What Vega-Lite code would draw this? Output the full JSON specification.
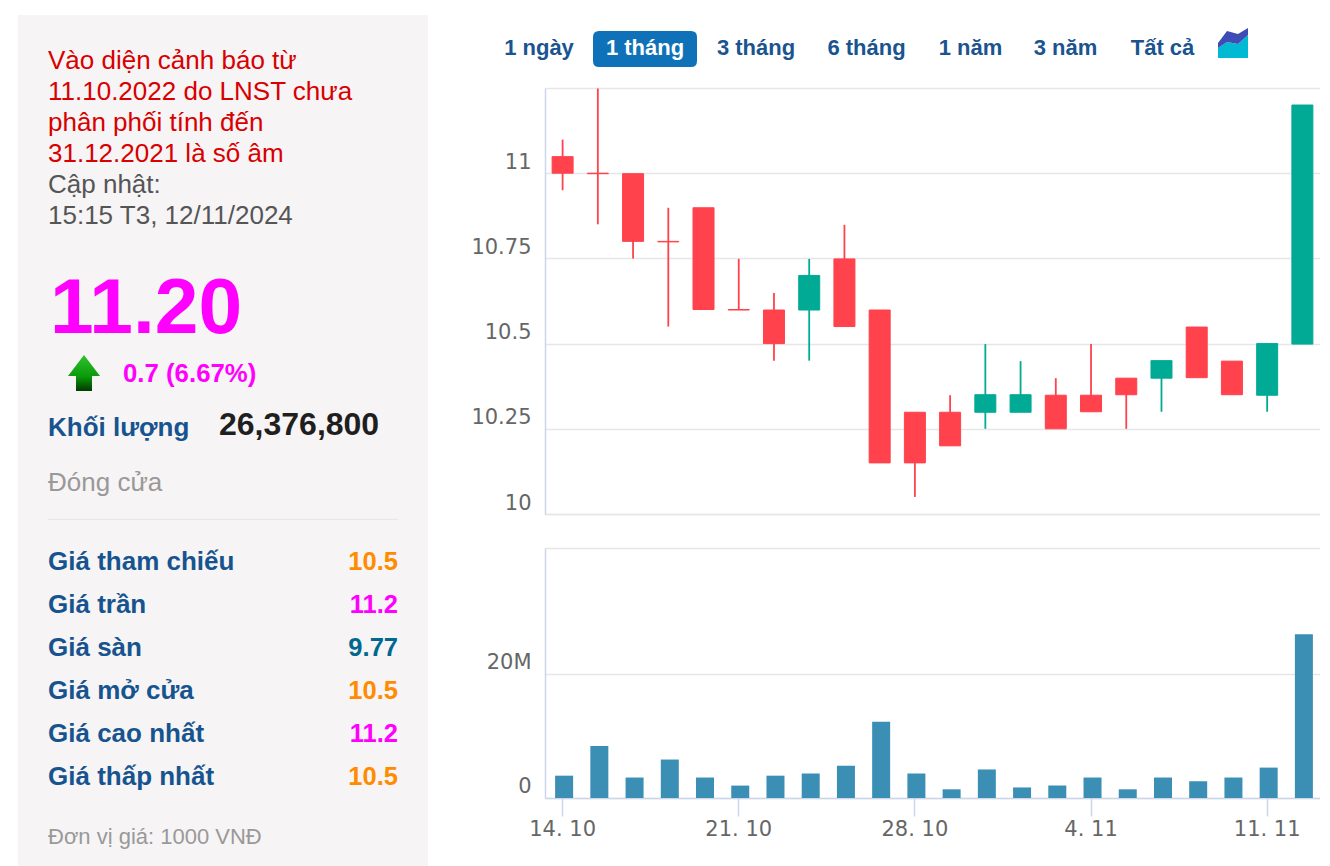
{
"$schema":"https://vega.github.io/schema/vega-lite/v6.json",
"background":"#ffffff",
"padding":{"left":18,"top":15,"right":0,"bottom":0},
"config":{"view":{"stroke":null},"text":{"font":"Liberation Sans"},"concat":{"spacing":0}},
"datasets":{
"panel":[
{"section":"notice","text":"Vào diện cảnh báo từ","tone":"warning"},
{"section":"notice","text":"11.10.2022 do LNST chưa","tone":"warning"},
{"section":"notice","text":"phân phối tính đến","tone":"warning"},
{"section":"notice","text":"31.12.2021 là số âm","tone":"warning"},
{"section":"notice","text":"Cập nhật:","tone":"muted"},
{"section":"notice","text":"15:15 T3, 12/11/2024","tone":"muted"},
{"section":"price","text":"11.20"},
{"section":"arrow","text":"up"},
{"section":"change","text":"0.7 (6.67%)"},
{"section":"volumeLabel","text":"Khối lượng"},
{"section":"volumeValue","text":"26,376,800"},
{"section":"close","text":"Đóng cửa"},
{"section":"divider","text":"from"},
{"section":"divider","text":"to"},
{"section":"table","text":"Giá tham chiếu","value":"10.5","tone":"ref"},
{"section":"table","text":"Giá trần","value":"11.2","tone":"ceil"},
{"section":"table","text":"Giá sàn","value":"9.77","tone":"floor"},
{"section":"table","text":"Giá mở cửa","value":"10.5","tone":"ref"},
{"section":"table","text":"Giá cao nhất","value":"11.2","tone":"ceil"},
{"section":"table","text":"Giá thấp nhất","value":"10.5","tone":"ref"},
{"section":"footer","text":"Đơn vị giá: 1000 VNĐ"}
],
"tabs":[
{"tab":"1 ngày","row":"tabs","tone":"idle"},
{"tab":"1 tháng","row":"tabs","tone":"active"},
{"tab":"3 tháng","row":"tabs","tone":"idle"},
{"tab":"6 tháng","row":"tabs","tone":"idle"},
{"tab":"1 năm","row":"tabs","tone":"idle"},
{"tab":"3 năm","row":"tabs","tone":"idle"},
{"tab":"Tất cả","row":"tabs","tone":"idle"}
],
"icon":[
{"k":0,"top":15,"low":10,"base":0},
{"k":9,"top":27,"low":16,"base":0},
{"k":20,"top":24,"low":14,"base":0},
{"k":30,"top":30,"low":23,"base":0}
],
"days":[
{"day":"14. 10","open":11.05,"close":11.0,"high":11.10,"low":10.95,"dir":"down","volume":3600000},
{"day":"15. 10","open":11.0,"close":11.0,"high":11.25,"low":10.85,"dir":"down","volume":8400000},
{"day":"16. 10","open":11.0,"close":10.8,"high":11.0,"low":10.75,"dir":"down","volume":3300000},
{"day":"17. 10","open":10.8,"close":10.8,"high":10.9,"low":10.55,"dir":"down","volume":6200000},
{"day":"18. 10","open":10.9,"close":10.6,"high":10.9,"low":10.6,"dir":"down","volume":3300000},
{"day":"21. 10","open":10.6,"close":10.6,"high":10.75,"low":10.6,"dir":"down","volume":2000000},
{"day":"22. 10","open":10.6,"close":10.5,"high":10.65,"low":10.45,"dir":"down","volume":3600000},
{"day":"23. 10","open":10.6,"close":10.7,"high":10.75,"low":10.45,"dir":"up","volume":3950000},
{"day":"24. 10","open":10.75,"close":10.55,"high":10.85,"low":10.55,"dir":"down","volume":5200000},
{"day":"25. 10","open":10.6,"close":10.15,"high":10.6,"low":10.15,"dir":"down","volume":12300000},
{"day":"28. 10","open":10.3,"close":10.15,"high":10.3,"low":10.05,"dir":"down","volume":3950000},
{"day":"29. 10","open":10.3,"close":10.2,"high":10.35,"low":10.2,"dir":"down","volume":1400000},
{"day":"30. 10","open":10.3,"close":10.35,"high":10.5,"low":10.25,"dir":"up","volume":4600000},
{"day":"31. 10","open":10.3,"close":10.35,"high":10.45,"low":10.3,"dir":"up","volume":1700000},
{"day":"1. 11","open":10.35,"close":10.25,"high":10.4,"low":10.25,"dir":"down","volume":2000000},
{"day":"4. 11","open":10.35,"close":10.3,"high":10.5,"low":10.3,"dir":"down","volume":3300000},
{"day":"5. 11","open":10.4,"close":10.35,"high":10.4,"low":10.25,"dir":"down","volume":1400000},
{"day":"6. 11","open":10.4,"close":10.45,"high":10.45,"low":10.3,"dir":"up","volume":3300000},
{"day":"7. 11","open":10.55,"close":10.4,"high":10.55,"low":10.4,"dir":"down","volume":2700000},
{"day":"8. 11","open":10.45,"close":10.35,"high":10.45,"low":10.35,"dir":"down","volume":3300000},
{"day":"11. 11","open":10.35,"close":10.5,"high":10.5,"low":10.3,"dir":"up","volume":4900000},
{"day":"12. 11","open":10.5,"close":11.2,"high":11.2,"low":10.5,"dir":"up","volume":26376800}
]
},
"hconcat":[
{
"width":410,"height":851,
"view":{"fill":"#f6f4f5","stroke":null},
"data":{"name":"panel"},
"resolve":{"scale":{"x":"independent","y":"independent"}},
"layer":[
{"transform":[{"filter":"datum.section=='notice'"}],
 "mark":{"type":"text","align":"left","baseline":"alphabetic","fontSize":26,"font":"Liberation Sans"},
 "encoding":{
  "x":{"field":"section","type":"nominal","axis":null,"scale":{"range":[30,30],"padding":0}},
  "y":{"field":"text","type":"nominal","sort":null,"axis":null,"scale":{"range":[53.5,209],"padding":0}},
  "text":{"field":"text"},
  "color":{"field":"tone","type":"nominal","legend":null,"scale":{"domain":["warning","muted","ref","ceil","floor","idle","active","up","down"],"range":["#d80000","#555555","#ff8c00","#ff00ff","#00688f","#1a5490","#ffffff","#00aa95","#ff424c"]}}}},
{"transform":[{"filter":"datum.section=='price'"}],
 "mark":{"type":"text","align":"left","baseline":"alphabetic","fontSize":78.5,"fontWeight":"bold","font":"Liberation Sans","color":"#ff00ff"},
 "encoding":{
  "x":{"field":"section","type":"nominal","axis":null,"scale":{"range":[32,32],"padding":0}},
  "y":{"field":"section","type":"nominal","axis":null,"scale":{"range":[318.3,318.3],"padding":0}},
  "text":{"field":"text"}}},
{"transform":[{"filter":"datum.section=='arrow'"}],
 "mark":{"type":"point","filled":true,"opacity":1,"strokeWidth":0,"size":1024,
  "shape":"M0,-1.125L1,0.19L0.5,0.19L0.5,1.125L-0.5,1.125L-0.5,0.19L-1,0.19Z",
  "color":{"gradient":"linear","x1":0,"y1":0,"x2":0,"y2":1,"stops":[{"offset":0,"color":"#2fc22f"},{"offset":0.6,"color":"#0a9a0a"},{"offset":1,"color":"#013a01"}]}},
 "encoding":{
  "x":{"field":"section","type":"nominal","axis":null,"scale":{"range":[66,66],"padding":0}},
  "y":{"field":"section","type":"nominal","axis":null,"scale":{"range":[358,358],"padding":0}}}},
{"transform":[{"filter":"datum.section=='change'"}],
 "mark":{"type":"text","align":"left","baseline":"alphabetic","fontSize":25.8,"fontWeight":"bold","font":"Liberation Sans","color":"#ff00ff"},
 "encoding":{
  "x":{"field":"section","type":"nominal","axis":null,"scale":{"range":[105,105],"padding":0}},
  "y":{"field":"section","type":"nominal","axis":null,"scale":{"range":[367,367],"padding":0}},
  "text":{"field":"text"}}},
{"transform":[{"filter":"datum.section=='volumeLabel'"}],
 "mark":{"type":"text","align":"left","baseline":"alphabetic","fontSize":26,"fontWeight":"bold","font":"Liberation Sans","color":"#17548f"},
 "encoding":{
  "x":{"field":"section","type":"nominal","axis":null,"scale":{"range":[30,30],"padding":0}},
  "y":{"field":"section","type":"nominal","axis":null,"scale":{"range":[421,421],"padding":0}},
  "text":{"field":"text"}}},
{"transform":[{"filter":"datum.section=='volumeValue'"}],
 "mark":{"type":"text","align":"left","baseline":"alphabetic","fontSize":32,"fontWeight":"bold","font":"Liberation Sans","color":"#1f1f1f"},
 "encoding":{
  "x":{"field":"section","type":"nominal","axis":null,"scale":{"range":[201,201],"padding":0}},
  "y":{"field":"section","type":"nominal","axis":null,"scale":{"range":[420,420],"padding":0}},
  "text":{"field":"text"}}},
{"transform":[{"filter":"datum.section=='close'"}],
 "mark":{"type":"text","align":"left","baseline":"alphabetic","fontSize":26,"font":"Liberation Sans","color":"#999999"},
 "encoding":{
  "x":{"field":"section","type":"nominal","axis":null,"scale":{"range":[30,30],"padding":0}},
  "y":{"field":"section","type":"nominal","axis":null,"scale":{"range":[475.7,475.7],"padding":0}},
  "text":{"field":"text"}}},
{"transform":[{"filter":"datum.section=='divider'"}],
 "mark":{"type":"line","color":"#e9e8e9","strokeWidth":1.3},
 "encoding":{
  "x":{"field":"text","type":"nominal","sort":null,"axis":null,"scale":{"range":[30,380],"padding":0}},
  "y":{"field":"section","type":"nominal","axis":null,"scale":{"range":[504.3,504.3],"padding":0}}}},
{"transform":[{"filter":"datum.section=='table'"}],
 "mark":{"type":"text","align":"left","baseline":"alphabetic","fontSize":26,"fontWeight":"bold","font":"Liberation Sans","color":"#17548f"},
 "encoding":{
  "x":{"field":"section","type":"nominal","axis":null,"scale":{"range":[30,30],"padding":0}},
  "y":{"field":"text","type":"nominal","sort":null,"axis":null,"scale":{"range":[555.2,770.2],"padding":0}},
  "text":{"field":"text"}}},
{"transform":[{"filter":"datum.section=='table'"}],
 "mark":{"type":"text","align":"right","baseline":"alphabetic","fontSize":25.5,"fontWeight":"bold","font":"Liberation Sans"},
 "encoding":{
  "x":{"field":"section","type":"nominal","axis":null,"scale":{"range":[380,380],"padding":0}},
  "y":{"field":"text","type":"nominal","sort":null,"axis":null,"scale":{"range":[555.2,770.2],"padding":0}},
  "text":{"field":"value"},
  "color":{"field":"tone","type":"nominal","legend":null,"scale":{"domain":["warning","muted","ref","ceil","floor","idle","active","up","down"],"range":["#d80000","#555555","#ff8c00","#ff00ff","#00688f","#1a5490","#ffffff","#00aa95","#ff424c"]}}}},
{"transform":[{"filter":"datum.section=='footer'"}],
 "mark":{"type":"text","align":"left","baseline":"alphabetic","fontSize":22,"font":"Liberation Sans","color":"#999999"},
 "encoding":{
  "x":{"field":"section","type":"nominal","axis":null,"scale":{"range":[30,30],"padding":0}},
  "y":{"field":"section","type":"nominal","axis":null,"scale":{"range":[829,829],"padding":0}},
  "text":{"field":"text"}}}
]
},
{
"spacing":0,
"vconcat":[
{
"width":775,"height":72,
"resolve":{"scale":{"x":"independent","y":"independent"}},
"layer":[
{"data":{"name":"tabs"},"transform":[{"filter":"datum.tone=='active'"}],
 "mark":{"type":"point","filled":true,"opacity":1,"strokeWidth":0,"size":4,"color":"#0f72b8",
  "shape":"M-46,-18H46Q52,-18 52,-12V12Q52,18 46,18H-46Q-52,18 -52,12V-12Q-52,-18 -46,-18Z"},
 "encoding":{
  "x":{"field":"tab","type":"nominal","axis":null,"scale":{"range":[100,100],"padding":0}},
  "y":{"field":"row","type":"nominal","axis":null,"scale":{"range":[34,34],"padding":0}}}},
{"data":{"name":"tabs"},"transform":[{"filter":{"field":"tab","oneOf":["1 ngày","1 tháng"]}}],
 "mark":{"type":"text","align":"center","baseline":"alphabetic","fontSize":22,"fontWeight":"bold","font":"Liberation Sans"},
 "encoding":{
  "x":{"field":"tab","type":"nominal","sort":null,"axis":null,"scale":{"range":[-6,100],"padding":0}},
  "y":{"field":"row","type":"nominal","axis":null,"scale":{"range":[40,40],"padding":0}},
  "text":{"field":"tab"},
  "color":{"field":"tone","type":"nominal","legend":null,"scale":{"domain":["warning","muted","ref","ceil","floor","idle","active","up","down"],"range":["#d80000","#555555","#ff8c00","#ff00ff","#00688f","#1a5490","#ffffff","#00aa95","#ff424c"]}}}},
{"data":{"name":"tabs"},"transform":[{"filter":{"field":"tab","oneOf":["3 tháng","6 tháng"]}}],
 "mark":{"type":"text","align":"center","baseline":"alphabetic","fontSize":22,"fontWeight":"bold","font":"Liberation Sans","color":"#1a5490"},
 "encoding":{
  "x":{"field":"tab","type":"nominal","sort":null,"axis":null,"scale":{"range":[211,321.5],"padding":0}},
  "y":{"field":"row","type":"nominal","axis":null,"scale":{"range":[40,40],"padding":0}},
  "text":{"field":"tab"}}},
{"data":{"name":"tabs"},"transform":[{"filter":{"field":"tab","oneOf":["1 năm","3 năm"]}}],
 "mark":{"type":"text","align":"center","baseline":"alphabetic","fontSize":22,"fontWeight":"bold","font":"Liberation Sans","color":"#1a5490"},
 "encoding":{
  "x":{"field":"tab","type":"nominal","sort":null,"axis":null,"scale":{"range":[425.5,520.5],"padding":0}},
  "y":{"field":"row","type":"nominal","axis":null,"scale":{"range":[40,40],"padding":0}},
  "text":{"field":"tab"}}},
{"data":{"name":"tabs"},"transform":[{"filter":{"field":"tab","oneOf":["Tất cả"]}}],
 "mark":{"type":"text","align":"center","baseline":"alphabetic","fontSize":22,"fontWeight":"bold","font":"Liberation Sans","color":"#1a5490"},
 "encoding":{
  "x":{"field":"tab","type":"nominal","axis":null,"scale":{"range":[617.5,617.5],"padding":0}},
  "y":{"field":"row","type":"nominal","axis":null,"scale":{"range":[40,40],"padding":0}},
  "text":{"field":"tab"}}},
{"data":{"name":"icon"},
 "mark":{"type":"area","color":"#00b9d2","opacity":1},
 "encoding":{
  "x":{"field":"k","type":"quantitative","axis":null,"scale":{"domain":[0,30],"range":[673,703]}},
  "y":{"field":"low","type":"quantitative","axis":null,"scale":{"domain":[0,30],"range":[43,13]}},
  "y2":{"field":"base"}}},
{"data":{"name":"icon"},
 "mark":{"type":"area","color":"#3e4cb5","opacity":1},
 "encoding":{
  "x":{"field":"k","type":"quantitative","axis":null,"scale":{"domain":[0,30],"range":[673,703]}},
  "y":{"field":"top","type":"quantitative","axis":null,"scale":{"domain":[0,30],"range":[43,13]}},
  "y2":{"field":"low"}}}
]
},
{
"width":775,"height":426,
"data":{"name":"days"},
"encoding":{
 "x":{"field":"day","type":"ordinal","sort":null,"title":null,"scale":{"type":"band","padding":0},
  "axis":{"orient":"bottom","labels":false,"ticks":false,"grid":false,"domainColor":"#e6e6e6","domainWidth":1.3,"minExtent":34,"maxExtent":34,"title":null}}
},
"layer":[
{"mark":{"type":"rule","strokeWidth":1.8,"yOffset":0.5},
 "encoding":{
  "y":{"field":"high","type":"quantitative","title":null,"scale":{"domain":[10,11.25],"nice":false,"zero":false},
   "axis":{"values":[10,10.25,10.5,10.75,11,11.25],"labelExpr":"datum.value>=11.25?'':toString(datum.value)","grid":true,"gridColor":"#e6e6e6","gridWidth":1.3,"ticks":false,"domainColor":"#ccd6eb","domainWidth":1.5,"labelPadding":14,"labelOffset":-11,"labelFont":"DejaVu Sans","labelFontSize":21,"labelColor":"#666666","minExtent":117,"maxExtent":117}},
  "y2":{"field":"low"},
  "color":{"field":"dir","type":"nominal","legend":null,"scale":{"domain":["warning","muted","ref","ceil","floor","idle","active","up","down"],"range":["#d80000","#555555","#ff8c00","#ff00ff","#00688f","#1a5490","#ffffff","#00aa95","#ff424c"]}}}},
{"mark":{"type":"bar","size":21,"strokeWidth":1,"opacity":1,"yOffset":0.5},
 "encoding":{
  "y":{"field":"open","type":"quantitative"},
  "y2":{"field":"close"},
  "color":{"field":"dir","type":"nominal","legend":null,"scale":{"domain":["warning","muted","ref","ceil","floor","idle","active","up","down"],"range":["#d80000","#555555","#ff8c00","#ff00ff","#00688f","#1a5490","#ffffff","#00aa95","#ff424c"]}},
  "stroke":{"field":"dir","type":"nominal","legend":null,"scale":{"domain":["up","down"],"range":["#00aa95","#ff424c"]}}}}
]
},
{
"width":775,"height":250,
"data":{"name":"days"},
"mark":{"type":"bar","size":18,"xOffset":1.5,"color":"#3b8eb4"},
"encoding":{
 "x":{"field":"day","type":"ordinal","sort":null,"title":null,"scale":{"type":"band","padding":0},
  "axis":{"orient":"bottom","values":["14. 10","21. 10","28. 10","4. 11","11. 11"],"labelAngle":0,"grid":false,"tickColor":"#ccd6eb","tickWidth":1.5,"tickSize":18,"domainColor":"#ccd6eb","domainWidth":1.5,"labelPadding":2,"labelFont":"DejaVu Sans","labelFontSize":21,"labelColor":"#666666","labelOverlap":false}},
 "y":{"field":"volume","type":"quantitative","title":null,"scale":{"domain":[0,40300000],"nice":false},
  "axis":{"values":[0,20000000,40300000],"labelExpr":"datum.value==0?'0':datum.value==20000000?'20M':''","grid":true,"gridColor":"#e6e6e6","gridWidth":1.3,"ticks":false,"domainColor":"#ccd6eb","domainWidth":1.5,"labelPadding":14,"labelOffset":-11.5,"labelFont":"DejaVu Sans","labelFontSize":21,"labelColor":"#666666","minExtent":117,"maxExtent":117}}
}
}
]
}
]
}
